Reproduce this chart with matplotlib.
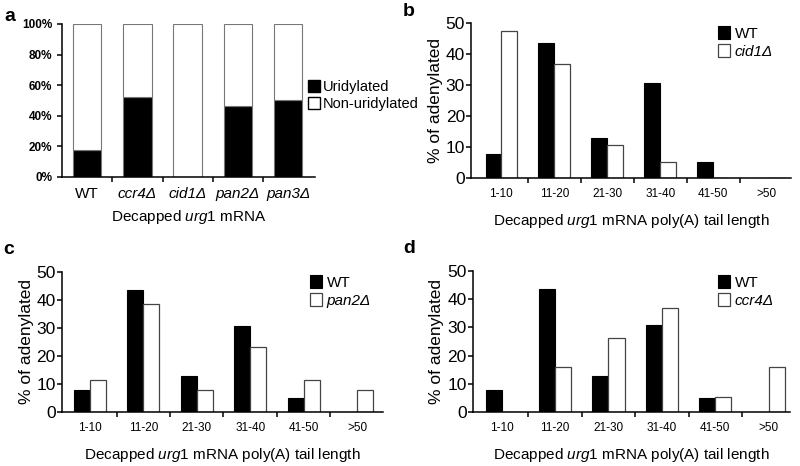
import numpy as np
import matplotlib
matplotlib.use("Agg")
import matplotlib.pyplot as plt
from matplotlib.patches import Patch

plt.rcParams['font.family'] = ['Liberation Sans', 'DejaVu Sans']
plt.rcParams['mathtext.fontset'] = 'custom'
plt.rcParams['mathtext.rm'] = 'Liberation Sans'
plt.rcParams['mathtext.it'] = 'Liberation Sans:italic'

# panel a: fraction uridylated
strains = ["WT", "ccr4Δ", "cid1Δ", "pan2Δ", "pan3Δ"]
uridylated = [17.9, 52.6, 0.0, 46.4, 50.0]

# panels b-d: poly(A) tail length distributions
bins = ["1-10", "11-20", "21-30", "31-40", "41-50", ">50"]
wt = [7.7, 43.6, 12.8, 30.8, 5.1, 0.0]
cid1 = [47.4, 36.8, 10.5, 5.3, 0.0, 0.0]
pan2 = [11.5, 38.5, 7.7, 23.1, 11.5, 7.7]
ccr4 = [0.0, 15.8, 26.3, 36.8, 5.3, 15.8]

xlab = r"Decapped $\mathit{urg1}$ mRNA poly(A) tail length"

fig = plt.figure(figsize=(8, 4.66), dpi=100)


def style(ax):
    for s in ["top", "right"]:
        ax.spines[s].set_visible(False)
    for s in ["left", "bottom"]:
        ax.spines[s].set_linewidth(1.1)
    ax.tick_params(axis="both", direction="out", length=3.5, width=1.1)


# ---- panel a
ax = fig.add_axes([0.0775, 0.6202, 0.316, 0.3283])
x = np.arange(len(strains))
rest = [100 - u for u in uridylated]
ax.bar(x, uridylated, 0.565, color="black", edgecolor="#777777", lw=0.8)
ax.bar(x, rest, 0.565, bottom=uridylated, color="white", edgecolor="#777777", lw=0.8)
ax.set_xlim(-0.5, 4.53)
ax.set_ylim(0, 100)
ax.set_yticks(np.arange(0, 101, 20))
ax.set_yticklabels(["%d%%" % v for v in range(0, 101, 20)], fontsize=8.5, fontweight="bold")
ax.set_xticks([0.5, 1.5, 2.5, 3.5])
ax.set_xticklabels([])
ax.set_xticks(x, minor=True)
ax.set_xticklabels(strains, minor=True, fontsize=11)
for lab in ax.get_xticklabels(minor=True)[1:]:
    lab.set_style("italic")
ax.tick_params(axis="x", which="minor", length=0, pad=7)
style(ax)
ax.set_xlabel(r"Decapped $\mathit{urg1}$ mRNA", fontsize=11, labelpad=5)
ax.legend(handles=[Patch(facecolor="black", edgecolor="black", label="Uridylated"),
                   Patch(facecolor="white", edgecolor="black", label="Non-uridylated")],
          loc="upper left", bbox_to_anchor=(308 / 800, 1 - 80 / 466), bbox_transform=fig.transFigure,
          frameon=False, fontsize=10.5, handlelength=0.8, handleheight=0.9, handletextpad=0.2,
          borderpad=0, borderaxespad=0, labelspacing=0.2)


def tail_panel(rect, xlim, mut, mut_name, leg_xy):
    ax = fig.add_axes(rect)
    xb = np.arange(len(bins))
    ax.bar(xb - 0.15, wt, 0.3, color="black", edgecolor="black", lw=0.8, label="WT")
    ax.bar(xb + 0.15, mut, 0.3, color="white", edgecolor="#444444", lw=0.9, label=mut_name)
    ax.set_xlim(*xlim)
    ax.set_ylim(0, 50)
    ax.set_yticks(np.arange(0, 51, 10))
    ax.tick_params(axis="y", labelsize=12.5, pad=1)
    ax.set_xticks(np.arange(0.5, 5, 1.0))
    ax.set_xticklabels([])
    ax.set_xticks(xb, minor=True)
    ax.set_xticklabels(bins, minor=True, fontsize=8.5)
    ax.tick_params(axis="x", which="minor", length=0, pad=7)
    style(ax)
    ax.set_xlabel(xlab, fontsize=11, labelpad=9)
    ax.set_ylabel("% of adenylated", fontsize=12.5, labelpad=2)
    leg = ax.legend(loc="upper left", bbox_to_anchor=leg_xy, bbox_transform=fig.transFigure,
                    frameon=False, fontsize=11, handlelength=0.8, handleheight=0.9,
                    handletextpad=0.3, borderpad=0, borderaxespad=0, labelspacing=0.25)
    leg.get_texts()[1].set_style("italic")
    return ax


tail_panel([0.589, 0.618, 0.4, 0.3326], (-0.57, 5.47), cid1, "cid1Δ", (718 / 800, 1 - 26 / 466))
tail_panel([0.0775, 0.1159, 0.401, 0.3004], (-0.52, 5.48), pan2, "pan2Δ", (310 / 800, 1 - 275 / 466))
tail_panel([0.591, 0.1159, 0.396, 0.3026], (-0.54, 5.39), ccr4, "ccr4Δ", (718 / 800, 1 - 275 / 466))

# panel letters
for lab, px, py in [("a", 4, 8), ("b", 403, 3), ("c", 3, 241), ("d", 403, 240)]:
    fig.text(px / 800, 1 - py / 466, lab, fontsize=14, fontweight="bold", va="top", ha="left")

fig.savefig("out.png", dpi=100)
